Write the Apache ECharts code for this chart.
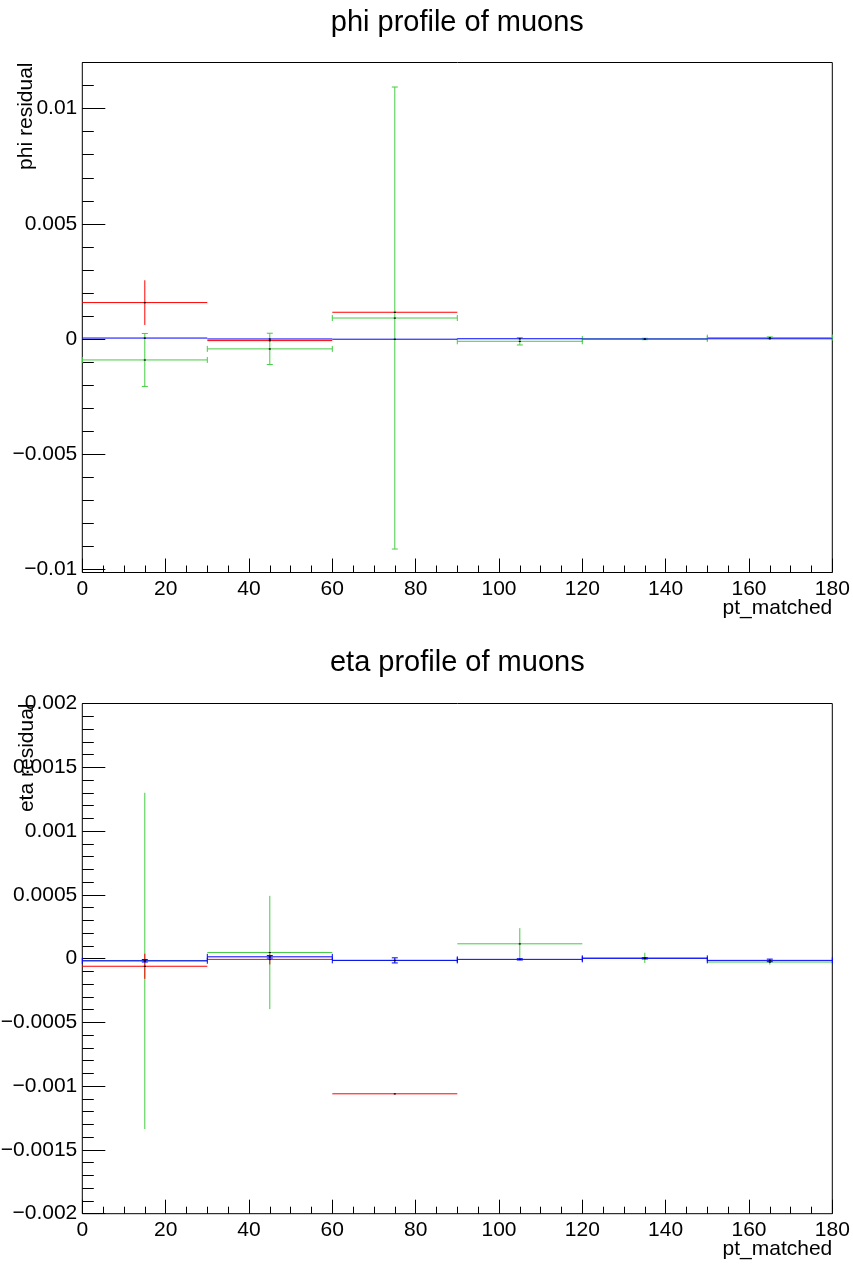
<!DOCTYPE html>
<html>
<head>
<meta charset="utf-8">
<script src="https://cdn.jsdelivr.net/npm/echarts@6/dist/echarts.min.js"></script>
<style>
html,body{margin:0;padding:0;background:#fff;}
#chart{width:853px;height:1265px;}
</style>
</head>
<body>
<div id="chart"></div>
<script>
// ---------- data ----------
const binEdges = [0, 30, 60, 90, 120, 150, 180];
const xTicks = [0, 20, 40, 60, 80, 100, 120, 140, 160, 180];

// phi profile (top panel)
const phiRed      = [0.00158, -0.00007, 0.00116, null, null, null];
const phiRedErr   = [0.00097, 0.00003, 0.00002, 0, 0, 0];
const phiGreen    = [-0.00091, -0.00043, 0.00091, -0.00010, 0.00000, 0.00006];
const phiGreenErr = [0.00115, 0.00068, 0.01003, 0.00016, 0.00003, 0.00003];
const phiBlue     = [0.00004, 0.00000, -0.00001, 0.00001, 0.00000, 0.00001];
const phiBlueErr  = [0.00001, 0.00001, 0.00001, 0.00001, 0.00001, 0.00001];

// eta profile (bottom panel)
const etaRed      = [-0.00006, -0.000006, -0.00106, null, null, null];
const etaRedErr   = [0.000098, 0.00004, 0.000003, 0, 0, 0];
const etaGreen    = [-0.000018, 0.000048, -0.000014, 0.000116, 0.000006, -0.000027];
const etaGreenErr = [0.001318, 0.000444, 0.00001, 0.000123, 0.00004, 0.00002];
const etaBlue     = [-0.000017, 0.000014, -0.000014, -0.000006, 0.000002, -0.000014];
const etaBlueErr  = [0.00001, 0.00001, 0.00002, 0.000005, 0.000005, 0.00001];

const phiRange = [-0.01, 0.012];
const etaRange = [-0.002, 0.002];

// ---------- helpers ----------
const FONT = '"Liberation Sans", Arial, Helvetica, sans-serif';
function fmt(v) {
  if (Math.abs(v) < 1e-12) return '0';
  return parseFloat(Number(v).toPrecision(8)).toString().replace('-', '\u2212');
}

function profileSeries(name, vals, errs, color, caps, xi, yi, z) {
  const data = [];
  vals.forEach((v, i) => {
    if (v === null) return;
    data.push([binEdges[i], binEdges[i + 1], v, errs[i]]);
  });
  return {
    type: 'custom', name, xAxisIndex: xi, yAxisIndex: yi, z, clip: false,
    silent: true, animation: false,
    data,
    encode: { x: [0, 1], y: 2 },
    renderItem(params, api) {
      const x0 = api.value(0), x1 = api.value(1), y = api.value(2), e = api.value(3);
      const xc = (x0 + x1) / 2;
      const pL = api.coord([x0, y]), pR = api.coord([x1, y]);
      const pT = api.coord([xc, y + e]), pB = api.coord([xc, y - e]);
      const pC = api.coord([xc, y]);
      const style = { stroke: color, lineWidth: 1, fill: null };
      const ch = [
        { type: 'line', shape: { x1: pL[0], y1: pL[1], x2: pR[0], y2: pR[1] }, style },
        { type: 'line', shape: { x1: pT[0], y1: pT[1], x2: pB[0], y2: pB[1] }, style }
      ];
      if (caps) {
        const c = 3;
        ch.push({ type: 'line', shape: { x1: pL[0], y1: pL[1] - c, x2: pL[0], y2: pL[1] + c }, style });
        ch.push({ type: 'line', shape: { x1: pR[0], y1: pR[1] - c, x2: pR[0], y2: pR[1] + c }, style });
        ch.push({ type: 'line', shape: { x1: pT[0] - c, y1: pT[1], x2: pT[0] + c, y2: pT[1] }, style });
        ch.push({ type: 'line', shape: { x1: pB[0] - c, y1: pB[1], x2: pB[0] + c, y2: pB[1] }, style });
      }
      ch.push({ type: 'rect', shape: { x: pC[0] - 1, y: pC[1] - 0.5, width: 2, height: 1.2 }, style: { fill: '#000' } });
      return { type: 'group', children: ch };
    }
  };
}

const L = 82.3, R = 853 - 832.3;
const labelStyle = { color: '#000', fontSize: 21, fontFamily: FONT };
const noLine = { show: false, onZero: false };

const option = {
  animation: false,
  backgroundColor: '#fff',
  grid: [
    // 0: top frame + visible x axis
    { left: L, right: R, top: 62.5, height: 510, show: true, borderColor: '#000', borderWidth: 1, backgroundColor: 'transparent', outerBoundsMode: 'none', containLabel: false },
    // 1: top data grid (y scale)
    { left: L, right: R, top: 62.6, height: 506.7, show: false, outerBoundsMode: 'none', containLabel: false },
    // 2: bottom panel
    { left: L, right: R, top: 703.5, height: 510.2, show: true, borderColor: '#000', borderWidth: 1, backgroundColor: 'transparent', outerBoundsMode: 'none', containLabel: false }
  ],
  xAxis: [
    { gridIndex: 0, type: 'value', position: 'bottom', min: xTicks[0], max: xTicks[xTicks.length - 1], interval: 20,
      axisLine: noLine, splitLine: { show: false },
      axisTick: { show: true, inside: true, length: 14, lineStyle: { color: '#000', width: 1 } },
      minorTick: { show: true, splitNumber: 4, length: 7, lineStyle: { color: '#000', width: 1 } },
      axisLabel: Object.assign({ margin: 6, formatter: fmt }, labelStyle) },
    { gridIndex: 1, type: 'value', min: xTicks[0], max: xTicks[xTicks.length - 1], show: false, axisLine: noLine },
    { gridIndex: 2, type: 'value', position: 'bottom', min: xTicks[0], max: xTicks[xTicks.length - 1], interval: 20,
      axisLine: noLine, splitLine: { show: false },
      axisTick: { show: true, inside: true, length: 14, lineStyle: { color: '#000', width: 1 } },
      minorTick: { show: true, splitNumber: 4, length: 7, lineStyle: { color: '#000', width: 1 } },
      axisLabel: Object.assign({ margin: 6, formatter: fmt }, labelStyle) }
  ],
  yAxis: [
    // 0: hidden on frame grid
    { gridIndex: 0, type: 'value', min: 0, max: 1, show: false, axisLine: noLine },
    // 1: top major
    { gridIndex: 1, type: 'value', position: 'left', min: phiRange[0], max: phiRange[1], interval: 0.005,
      axisLine: noLine, splitLine: { show: false },
      axisTick: { show: true, inside: true, length: 23, lineStyle: { color: '#000', width: 1 } },
      axisLabel: Object.assign({ margin: 5, showMaxLabel: false, formatter: fmt }, labelStyle) },
    // 2: top minor
    { gridIndex: 1, type: 'value', position: 'left', offset: 0, min: phiRange[0], max: phiRange[1], interval: 0.001,
      axisLine: noLine, splitLine: { show: false }, axisLabel: { show: false },
      axisTick: { show: true, inside: true, length: 11.5, lineStyle: { color: '#000', width: 1 } } },
    // 3: bottom
    { gridIndex: 2, type: 'value', position: 'left', min: etaRange[0], max: etaRange[1], interval: 0.0005,
      axisLine: noLine, splitLine: { show: false },
      axisTick: { show: true, inside: true, length: 23, lineStyle: { color: '#000', width: 1 } },
      minorTick: { show: true, splitNumber: 5, length: 11.5, lineStyle: { color: '#000', width: 1 } },
      axisLabel: Object.assign({ margin: 5, formatter: fmt }, labelStyle) }
  ],
  series: [
    profileSeries('phi green', phiGreen, phiGreenErr, '#44cc44', true, 1, 1, 2),
    profileSeries('phi red', phiRed, phiRedErr, '#ff0000', false, 1, 1, 3),
    profileSeries('phi blue', phiBlue, phiBlueErr, '#0000ff', false, 1, 1, 4),
    profileSeries('eta green', etaGreen, etaGreenErr, '#44cc44', false, 2, 3, 2),
    profileSeries('eta red', etaRed, etaRedErr, '#ff0000', false, 2, 3, 3),
    profileSeries('eta blue', etaBlue, etaBlueErr, '#0000ff', true, 2, 3, 4)
  ],
  graphic: [
    { type: 'text', x: 457.3, y: 22.5, style: { text: 'phi profile of muons', fill: '#000', font: '29px ' + FONT, textAlign: 'center', textVerticalAlign: 'middle' } },
    { type: 'text', x: 457.3, y: 663.3, style: { text: 'eta profile of muons', fill: '#000', font: '29px ' + FONT, textAlign: 'center', textVerticalAlign: 'middle' } },
    { type: 'text', x: 832.3, y: 608.5, style: { text: 'pt_matched', fill: '#000', font: '21px ' + FONT, textAlign: 'right', textVerticalAlign: 'middle' } },
    { type: 'text', x: 832.3, y: 1249.7, style: { text: 'pt_matched', fill: '#000', font: '21px ' + FONT, textAlign: 'right', textVerticalAlign: 'middle' } },
    { type: 'text', x: 26, y: 62.5, rotation: Math.PI / 2, style: { text: 'phi residual', fill: '#000', font: '21px ' + FONT, textAlign: 'right', textVerticalAlign: 'middle' } },
    { type: 'text', x: 27, y: 703.5, rotation: Math.PI / 2, style: { text: 'eta residual', fill: '#000', font: '21px ' + FONT, textAlign: 'right', textVerticalAlign: 'middle' } }
  ]
};

const chart = echarts.init(document.getElementById('chart'), null, { renderer: 'canvas' });
chart.setOption(option);
</script>
</body>
</html>
